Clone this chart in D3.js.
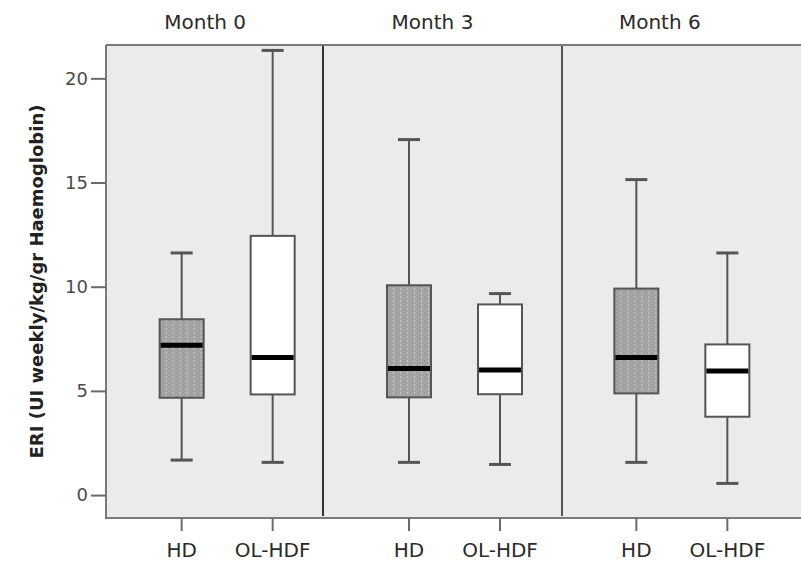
<!DOCTYPE html>
<html>
<head>
<meta charset="utf-8">
<script src="https://cdn.jsdelivr.net/npm/d3@7"></script>
<style>
  body { margin: 0; background: #fff; }
  svg { display: block; }
</style>
</head>
<body>
<svg id="chart" width="801" height="565"></svg>
<script>
// Panels and groups
const months = ["Month 0", "Month 3", "Month 6"];
const treatments = ["HD", "OL-HDF"];
const yTicks = [0, 5, 10, 15, 20];

// Box-plot summaries, one row per month, columns in treatment order
const lowerWhisker = [[1.68, 1.57], [1.57, 1.47], [1.57, 0.56]];
const q1           = [[4.67, 4.83], [4.69, 4.84], [4.88, 3.76]];
const median       = [[7.19, 6.60], [6.08, 6.00], [6.60, 5.95]];
const q3           = [[8.44, 12.44], [10.07, 9.15], [9.91, 7.23]];
const upperWhisker = [[11.62, 21.34], [17.06, 9.67], [15.14, 11.62]];

const yTitle = "ERI (UI weekly/kg/gr Haemoglobin)";

// Layout
const frame = { left: 106, top: 45, right: 803, bottom: 518 };
const panelDividers = [323, 562];
const boxWidth = 44;
const capWidth = 22;
const font = "'DejaVu Sans', Verdana, sans-serif";

const svg = d3.select("#chart");

// Stippled fill for the HD boxes
const defs = svg.append("defs");
const pat = defs.append("pattern")
  .attr("id", "stipple")
  .attr("patternUnits", "userSpaceOnUse")
  .attr("width", 7).attr("height", 4);
pat.append("rect").attr("width", 7).attr("height", 4).attr("fill", "#a5a5a5");
pat.append("rect").attr("x", 1).attr("y", 0).attr("width", 1).attr("height", 1).attr("fill", "#8c8c8c");
pat.append("rect").attr("x", 3).attr("y", 2).attr("width", 1).attr("height", 1).attr("fill", "#8e8e8e");
pat.append("rect").attr("x", 5).attr("y", 0).attr("width", 1).attr("height", 2).attr("fill", "#c4c4c4");

const rows = [];
months.forEach((m, i) => {
  treatments.forEach((t, j) => {
    rows.push({
      month: m, treatment: t,
      lo: lowerWhisker[i][j], q1: q1[i][j], med: median[i][j],
      q3: q3[i][j], hi: upperWhisker[i][j]
    });
  });
});

// Scales
const y = d3.scaleLinear().domain([-1.1, 21.6]).range([frame.bottom, frame.top]);
const xMonth = d3.scaleBand().domain(months).range([113.5, 795.5]).paddingInner(0);
const xTreat = d3.scalePoint().domain(treatments).range([0, xMonth.bandwidth()]).padding(0.749);
const cx = d => xMonth(d.month) + xTreat(d.treatment);

// Plot background
svg.append("rect")
  .attr("x", frame.left).attr("y", frame.top)
  .attr("width", frame.right - frame.left).attr("height", frame.bottom - frame.top)
  .attr("fill", "#ebebeb");

// Panel dividers
svg.selectAll("line.divider").data(panelDividers).join("line")
  .attr("class", "divider")
  .attr("x1", d => d).attr("x2", d => d)
  .attr("y1", frame.top).attr("y2", frame.bottom - 2)
  .attr("stroke", (d, i) => i === 0 ? "#333" : "#555")
  .attr("stroke-width", 2);

// Frame: top edge
svg.append("line")
  .attr("x1", frame.left).attr("x2", frame.right)
  .attr("y1", frame.top).attr("y2", frame.top)
  .attr("stroke", "#7a7a7a").attr("stroke-width", 2);

// Y axis
const yAxis = d3.axisLeft(y).tickValues(yTicks).tickSize(15).tickPadding(3).tickFormat(d3.format("d"));
const gy = svg.append("g").attr("transform", `translate(${frame.left},0)`).call(yAxis);
gy.select(".domain").attr("d", `M0,${frame.top}V${frame.bottom}`).attr("stroke", "#7a7a7a").attr("stroke-width", 2);
gy.selectAll(".tick line").attr("stroke", "#6a6a6a").attr("stroke-width", 2);
gy.selectAll(".tick text").attr("fill", "#4a4a4a").style("font-family", font).style("font-size", "18px");

// X axis (one tick per box)
const xAxisG = svg.append("g").attr("transform", `translate(0,${frame.bottom})`);
xAxisG.append("line")
  .attr("x1", frame.left - 1).attr("x2", frame.right)
  .attr("y1", 0).attr("y2", 0)
  .attr("stroke", "#7a7a7a").attr("stroke-width", 2);
const xt = xAxisG.selectAll("g.xtick").data(rows).join("g")
  .attr("class", "xtick")
  .attr("transform", d => `translate(${cx(d)},0)`);
xt.append("line").attr("y1", 0).attr("y2", 13).attr("stroke", "#6a6a6a").attr("stroke-width", 2);
xt.append("text")
  .attr("y", 39).attr("text-anchor", "middle")
  .attr("fill", "#2a2a2a")
  .style("font-family", font).style("font-size", "20px")
  .text(d => d.treatment);

// Whiskers
const boxes = svg.append("g").selectAll("g.box").data(rows).join("g")
  .attr("class", "box")
  .attr("transform", d => `translate(${cx(d)},0)`);

boxes.append("line")
  .attr("y1", d => y(d.hi)).attr("y2", d => y(d.q3))
  .attr("stroke", "#555").attr("stroke-width", 2);
boxes.append("line")
  .attr("y1", d => y(d.q1)).attr("y2", d => y(d.lo))
  .attr("stroke", "#555").attr("stroke-width", 2);
boxes.append("line")
  .attr("x1", -capWidth / 2).attr("x2", capWidth / 2)
  .attr("y1", d => y(d.hi)).attr("y2", d => y(d.hi))
  .attr("stroke", "#555").attr("stroke-width", 3);
boxes.append("line")
  .attr("x1", -capWidth / 2).attr("x2", capWidth / 2)
  .attr("y1", d => y(d.lo)).attr("y2", d => y(d.lo))
  .attr("stroke", "#555").attr("stroke-width", 3);

// Boxes
boxes.append("rect")
  .attr("x", -boxWidth / 2).attr("width", boxWidth)
  .attr("y", d => y(d.q3)).attr("height", d => y(d.q1) - y(d.q3))
  .attr("fill", d => d.treatment === "HD" ? "url(#stipple)" : "#fff")
  .attr("stroke", "#555").attr("stroke-width", 2);

// Medians
boxes.append("line")
  .attr("x1", -boxWidth / 2 + 1).attr("x2", boxWidth / 2 - 1)
  .attr("y1", d => y(d.med)).attr("y2", d => y(d.med))
  .attr("stroke", "#000").attr("stroke-width", 5);

// Panel titles
svg.selectAll("text.month").data(months).join("text")
  .attr("class", "month")
  .attr("x", d => xMonth(d) + xMonth.bandwidth() / 2 - 22)
  .attr("y", 29)
  .attr("text-anchor", "middle")
  .attr("fill", "#2a2a2a")
  .style("font-family", font).style("font-size", "20px")
  .text(d => d);

// Y axis title
svg.append("text")
  .attr("transform", `translate(43,${(frame.top + frame.bottom) / 2}) rotate(-90)`)
  .attr("text-anchor", "middle")
  .attr("fill", "#222")
  .style("font-family", font).style("font-size", "18px").style("font-weight", "bold")
  .text(yTitle);
</script>
</body>
</html>
